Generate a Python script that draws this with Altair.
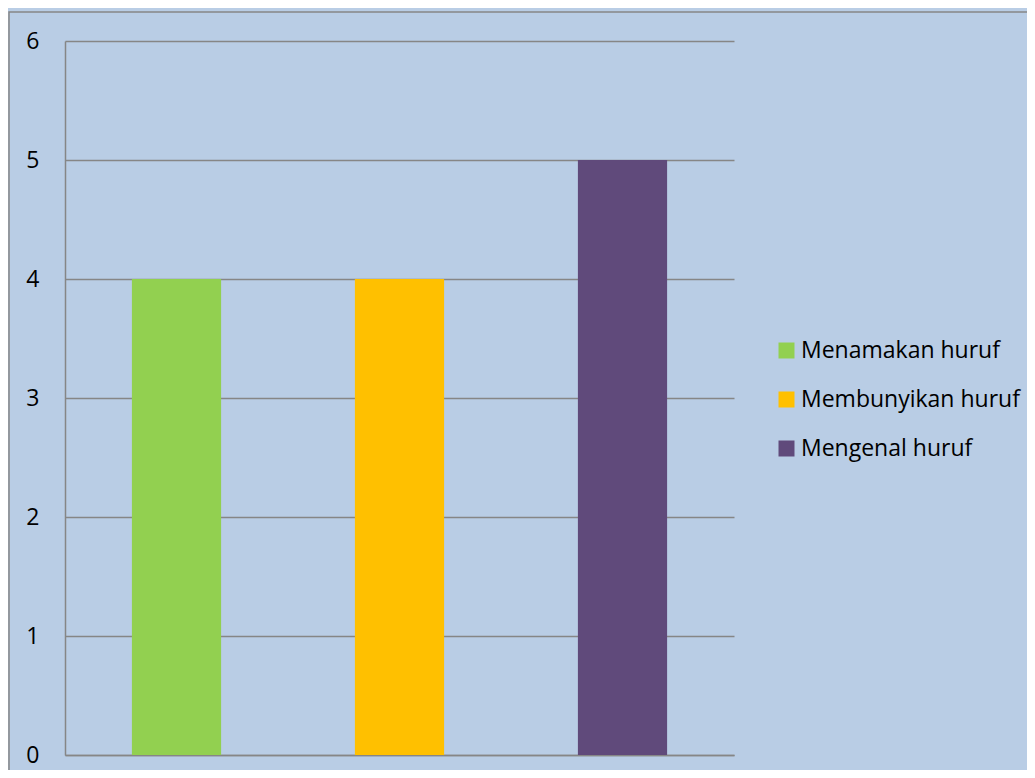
import altair as alt
import pandas as pd

categories = ["Menamakan huruf", "Membunyikan huruf", "Mengenal huruf"]
values = [4, 4, 5]
colors = ["#92D050", "#FFC000", "#604A7B"]
y_ticks = [0, 1, 2, 3, 4, 5, 6]

df = pd.DataFrame({"kategori": categories, "nilai": values})

FONT = "Open Sans"
GRAY = "#868686"

bars = alt.Chart(df).mark_bar(strokeWidth=0).encode(
    x=alt.X(
        "kategori:N",
        sort=categories,
        scale=alt.Scale(paddingInner=0.6, paddingOuter=0.3),
        axis=alt.Axis(title=None, labels=False, ticks=False, domain=True,
                      domainColor=GRAY, domainWidth=1.5, grid=False),
    ),
    y=alt.Y(
        "nilai:Q",
        scale=alt.Scale(domain=[0, 6], nice=False),
        axis=alt.Axis(title=None, values=y_ticks, ticks=False, domain=True,
                      domainColor=GRAY, domainWidth=1.5, grid=True,
                      gridColor=GRAY, gridWidth=1.3, gridOpacity=1,
                      labelFont=FONT, labelFontSize=23, labelColor="black",
                      labelPadding=26, labelAlign="right", labelBaseline="middle",
                      format="d"),
    ),
    color=alt.Color(
        "kategori:N",
        sort=categories,
        scale=alt.Scale(domain=categories, range=colors),
        legend=alt.Legend(title=None, orient="none", legendX=710, legendY=298,
                          symbolType="square", symbolSize=256, symbolStrokeWidth=0,
                          symbolOpacity=1, labelFont=FONT, labelFontSize=23,
                          labelColor="black", labelOffset=3, labelLimit=400,
                          rowPadding=25, padding=0),
    ),
)

border = alt.Chart(alt.Data(values=[{"a": 1}])).mark_rect(
    fill=None, stroke=GRAY, strokeWidth=1.5
).encode(
    x=alt.value(-56), x2=alt.value(1000), y=alt.value(-29), y2=alt.value(780)
)

chart = alt.layer(bars, border).properties(
    width=669,
    height=714,
    autosize=alt.AutoSizeParams(type="none"),
    padding={"left": 57, "top": 33, "right": 293, "bottom": 15},
    background="#B9CDE5",
).configure_view(stroke=None)

chart.save("out.html", embed_options={"renderer": "svg", "actions": False})
